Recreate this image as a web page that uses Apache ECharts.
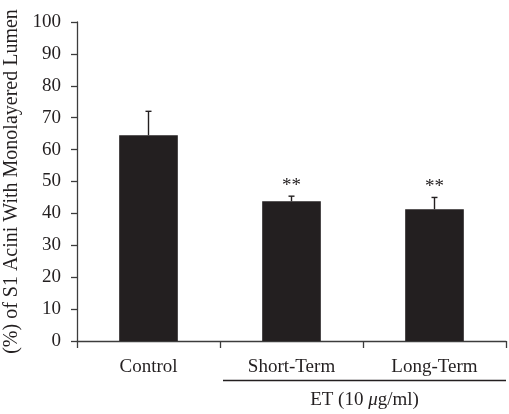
<!DOCTYPE html>
<html><head><meta charset="utf-8">
<script src="https://cdn.jsdelivr.net/npm/echarts@6/dist/echarts.min.js"></script>
<style>html,body{margin:0;padding:0;background:#fff}#c{width:509px;height:414px}</style>
</head><body><div id="c"></div>
<script>
const categories = ['Control', 'Short-Term', 'Long-Term'];
const means = [64.5, 43.8, 41.3];
const errTops = [72.0, 45.4, 45.0];
const marks = ['', '**', '**'];
const yTicks = [0, 10, 20, 30, 40, 50, 60, 70, 80, 90, 100];
const groupLabelParts = ['ET (10 ', '\u03bc', 'g/ml)'];
const yTitle = '(%) of S1 Acini With Monolayered Lumen';

const FONT = 'Liberation Serif';
const INK = '#231f20';
const AX = '#3c3c3c';
const chart = echarts.init(document.getElementById('c'));
const option = {
  animation: false,
  grid: {left: 77, right: 3, top: 22, bottom: 73, containLabel: false, outerBoundsMode: 'none'},
  xAxis: {
    type: 'category', data: categories,
    axisLine: {lineStyle: {color: AX, width: 1.3}},
    axisTick: {show: true, length: 7, lineStyle: {color: AX, width: 1.3}},
    axisLabel: {fontFamily: FONT, fontSize: 19, color: INK, margin: 17}
  },
  yAxis: {
    type: 'value', min: yTicks[0], max: yTicks[yTicks.length - 1], interval: 10,
    splitLine: {show: false},
    axisLine: {show: true, lineStyle: {color: AX, width: 1.3}},
    axisTick: {show: true, length: 6, lineStyle: {color: AX, width: 1.3}},
    axisLabel: {fontFamily: FONT, fontSize: 19, color: INK, margin: 16},
    name: yTitle, nameLocation: 'middle', nameGap: 54,
    nameTextStyle: {fontFamily: FONT, fontSize: 20, color: INK}
  },
  series: [
    {type: 'bar', data: means, barWidth: '41%', itemStyle: {color: INK}, silent: true},
    {
      type: 'custom', silent: true,
      data: categories.map((c, i) => [i, means[i], errTops[i]]),
      renderItem: function (params, api) {
        const x = api.coord([api.value(0), 0])[0];
        const yb = api.coord([api.value(0), api.value(1)])[1];
        const yt = api.coord([api.value(0), api.value(2)])[1];
        const st = {stroke: INK, lineWidth: 1.4};
        const ch = [
          {type: 'line', shape: {x1: x, y1: yb, x2: x, y2: yt}, style: st},
          {type: 'line', shape: {x1: x - 3, y1: yt, x2: x + 3, y2: yt}, style: st}
        ];
        const m = marks[params.dataIndex];
        if (m) {
          ch.push({type: 'text', x: x, y: yt - 1,
            style: {text: m, fontFamily: FONT, fontSize: 19, fill: INK, align: 'center', verticalAlign: 'bottom'}});
        }
        return {type: 'group', children: ch};
      }
    }
  ]
};
chart.setOption(option);
const x1 = chart.convertToPixel({xAxisIndex: 0}, categories[1]);
const x2 = chart.convertToPixel({xAxisIndex: 0}, categories[2]);
const half = (x2 - x1) / 2;
const left = x1 - half + 3, right = x2 + half;
chart.setOption({graphic: [
  {type: 'line', shape: {x1: left, y1: 380.5, x2: right, y2: 380.5}, style: {stroke: INK, lineWidth: 1.3}},
  {type: 'text', x: (left + right) / 2, y: 400, style: {
    text: '{n|' + groupLabelParts[0] + '}{i|' + groupLabelParts[1] + '}{n|' + groupLabelParts[2] + '}',
    align: 'center', verticalAlign: 'middle',
    rich: {
      n: {fontFamily: FONT, fontSize: 19, fill: INK, color: INK},
      i: {fontFamily: FONT, fontSize: 19, fontStyle: 'italic', fill: INK, color: INK}
    }
  }}
]});
</script></body></html>
